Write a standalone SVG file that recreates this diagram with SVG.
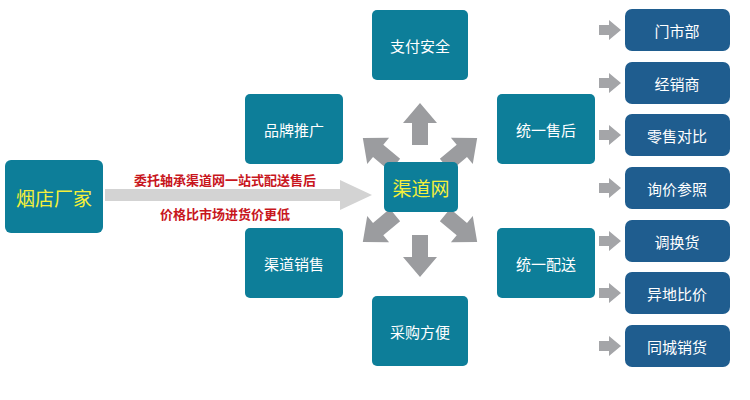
<svg xmlns="http://www.w3.org/2000/svg" width="750" height="400" viewBox="0 0 750 400">
<style>
.t{fill:#0d7e99}.d{fill:#1f5d8f}
text{font-family:"Noto Sans CJK SC",sans-serif;text-anchor:middle;dominant-baseline:central}
.w{fill:#fff;font-size:15px}.r{fill:#c8161d;font-size:13px;font-weight:bold}
.g{fill:#9b9c9f}.s{fill:#a4a5a8}
</style>
<defs>
<polygon id="a" points="0,-8 22,-8 22,-17 42,0 22,17 22,8 0,8"/>
<polygon id="sa" points="0,-5 10,-5 10,-10 22,0 10,10 10,5 0,5"/>
</defs>
<rect width="750" height="400" fill="#fff"/>
<g id="connectors">
<polygon points="105,189 340,189 340,180 372,195 340,210 340,201 105,201" fill="#d3d3d3"/>
<use href="#a" class="g" transform="translate(420,145) rotate(-90)"/>
<use href="#a" class="g" transform="translate(420,235) rotate(90)"/>
<use href="#a" class="g" transform="translate(395,165) rotate(-140)"/>
<use href="#a" class="g" transform="translate(445,165) rotate(-40)"/>
<use href="#a" class="g" transform="translate(395,215) rotate(140)"/>
<use href="#a" class="g" transform="translate(445,215) rotate(40)"/>
<use href="#sa" class="s" x="599" y="30"/>
<use href="#sa" class="s" x="599" y="83"/>
<use href="#sa" class="s" x="599" y="135"/>
<use href="#sa" class="s" x="599" y="188"/>
<use href="#sa" class="s" x="599" y="241"/>
<use href="#sa" class="s" x="599" y="293"/>
<use href="#sa" class="s" x="599" y="346"/>
</g>
<g id="n0"><rect class="t" x="5" y="160" width="98" height="73" rx="6"/><text x="54" y="197" fill="#f5f03a" font-size="19">烟店厂家</text></g>
<g id="lbl"><text class="r" x="225" y="179">委托轴承渠道网一站式配送售后</text><text class="r" x="225" y="213">价格比市场进货价更低</text></g>
<g id="c"><rect class="t" x="384" y="162" width="74" height="50" rx="5"/><text x="421" y="187" fill="#f5f03a" font-size="19">渠道网</text></g>
<g id="n1"><rect class="t" x="372" y="10" width="96" height="70" rx="5"/><text class="w" x="420" y="45">支付安全</text></g>
<g id="n2"><rect class="t" x="245" y="94" width="98" height="70" rx="5"/><text class="w" x="294" y="129">品牌推广</text></g>
<g id="n3"><rect class="t" x="497" y="94" width="98" height="70" rx="5"/><text class="w" x="546" y="129">统一售后</text></g>
<g id="n4"><rect class="t" x="245" y="228" width="98" height="70" rx="5"/><text class="w" x="294" y="263">渠道销售</text></g>
<g id="n5"><rect class="t" x="497" y="228" width="98" height="70" rx="5"/><text class="w" x="546" y="263">统一配送</text></g>
<g id="n6"><rect class="t" x="372" y="296" width="96" height="70" rx="5"/><text class="w" x="420" y="331">采购方便</text></g>
<g id="r1"><rect class="d" x="625" y="9" width="105" height="42" rx="7"/><text class="w" x="677" y="30">门市部</text></g>
<g id="r2"><rect class="d" x="625" y="62" width="105" height="42" rx="7"/><text class="w" x="677" y="83">经销商</text></g>
<g id="r3"><rect class="d" x="625" y="114" width="105" height="42" rx="7"/><text class="w" x="677" y="135">零售对比</text></g>
<g id="r4"><rect class="d" x="625" y="167" width="105" height="42" rx="7"/><text class="w" x="677" y="188">询价参照</text></g>
<g id="r5"><rect class="d" x="625" y="220" width="105" height="42" rx="7"/><text class="w" x="677" y="241">调换货</text></g>
<g id="r6"><rect class="d" x="625" y="272" width="105" height="42" rx="7"/><text class="w" x="677" y="293">异地比价</text></g>
<g id="r7"><rect class="d" x="625" y="325" width="105" height="42" rx="7"/><text class="w" x="677" y="346">同城销货</text></g>
</svg>
